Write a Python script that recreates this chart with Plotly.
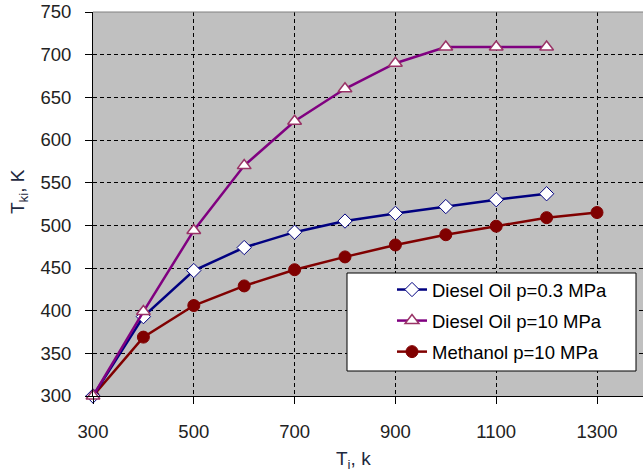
import plotly.graph_objects as go

# Initial temperature T_i, K
t_initial = [300, 400, 500, 600, 700, 800, 900, 1000, 1100, 1200, 1300]

# Resulting temperature T_ki, K for each fuel / pressure case
diesel_low = [300, 393, 447, 474, 492, 505, 514, 522, 530, 537]
diesel_high = [300, 399, 494, 570, 622, 660, 690, 709, 709, 709]
methanol_high = [300, 369, 406, 429, 448, 463, 477, 489, 499, 509, 515]

series_names = ["Diesel Oil p=0.3 MPa", "Diesel Oil p=10 MPa", "Methanol p=10 MPa"]

x_ticks = [300, 500, 700, 900, 1100, 1300]
y_ticks = [300, 350, 400, 450, 500, 550, 600, 650, 700, 750]

FONT = "Liberation Sans, Arial, sans-serif"
TITLE_COLOR = "#1e2a40"

fig = go.Figure()

# methanol drawn first so the diesel markers sit on top at the shared start point
fig.add_trace(go.Scatter(
    x=t_initial[:len(methanol_high)], y=methanol_high, name=series_names[2],
    mode="lines+markers", legendgroup="c", legendrank=3,
    line=dict(color="#800000", width=2.5),
    marker=dict(symbol="circle", size=12, color="#800000",
                line=dict(color="#800000", width=1)),
))
fig.add_trace(go.Scatter(
    x=t_initial[:len(diesel_low)], y=diesel_low, name=series_names[0],
    mode="lines+markers", legendgroup="a", legendrank=1, cliponaxis=False,
    line=dict(color="#000080", width=2.5),
    marker=dict(symbol="diamond", size=11, color="white",
                line=dict(color="#000080", width=1)),
))
fig.add_trace(go.Scatter(
    x=t_initial[:len(diesel_high)], y=diesel_high, name=series_names[1],
    mode="lines+markers", legendgroup="b", legendrank=2, cliponaxis=False,
    line=dict(color="#800080", width=2.5),
    marker=dict(symbol="triangle-up", size=12, color="white",
                line=dict(color="#993366", width=1.5)),
))

W, H = 643, 475
ML, MT, MB = 93, 12, 79
plot_w = W - ML
plot_h = H - MT - MB


def px_x(p):
    return (p - ML) / plot_w


def px_y(p):
    return (H - MB - p) / plot_h


# legend frame with extra room on the left, like the spreadsheet original
fig.add_shape(type="rect", xref="paper", yref="paper",
              x0=px_x(347), x1=px_x(636), y0=px_y(371), y1=px_y(273),
              fillcolor="white", line=dict(color="black", width=1),
              layer="above")
# plot-area border along the top
fig.add_shape(type="line", xref="paper", yref="paper",
              x0=0, x1=1, y0=1, y1=1,
              line=dict(color="#808080", width=1), layer="above")

# axis titles
fig.add_annotation(text="T<sub>i</sub>, k", xref="paper", yref="paper",
                   x=px_x(353), y=px_y(460), xanchor="center", yanchor="middle",
                   showarrow=False,
                   font=dict(family=FONT, size=19, color=TITLE_COLOR))
fig.add_annotation(text="T<sub>ki</sub>, K", xref="paper", yref="paper",
                   x=px_x(19), y=px_y(192), xanchor="center", yanchor="middle",
                   textangle=-90, showarrow=False,
                   font=dict(family=FONT, size=19, color=TITLE_COLOR))

fig.update_layout(
    width=W, height=H,
    margin=dict(l=ML, r=0, t=MT, b=MB),
    paper_bgcolor="white",
    plot_bgcolor="#C0C0C0",
    font=dict(family=FONT, size=18.5, color="black"),
    showlegend=True,
    legend=dict(
        x=px_x(392), y=px_y(271), xanchor="left", yanchor="top",
        bgcolor="rgba(0,0,0,0)", borderwidth=0,
        traceorder="grouped", tracegroupgap=4,
        font=dict(family=FONT, size=18.5, color="black"),
    ),
    xaxis=dict(
        range=[300, 300 + plot_w / 0.504],
        tickvals=x_ticks,
        ticks="outside", ticklen=7, tickcolor="black", tickwidth=1,
        showline=True, linecolor="black", linewidth=1,
        showgrid=True, gridcolor="black", gridwidth=1, griddash="4px,3px",
        zeroline=False,
        tickfont=dict(family=FONT, size=18.5, color="#222222"),
        ticklabelstandoff=12,
    ),
    yaxis=dict(
        range=[300, 750],
        tickvals=y_ticks,
        ticks="outside", ticklen=7, tickcolor="black", tickwidth=1,
        showline=True, linecolor="black", linewidth=1,
        showgrid=True, gridcolor="black", gridwidth=1, griddash="4px,3px",
        zeroline=False,
        tickfont=dict(family=FONT, size=18.5, color="#222222"),
        ticklabelstandoff=10,
    ),
)

fig.write_html("out.html")
